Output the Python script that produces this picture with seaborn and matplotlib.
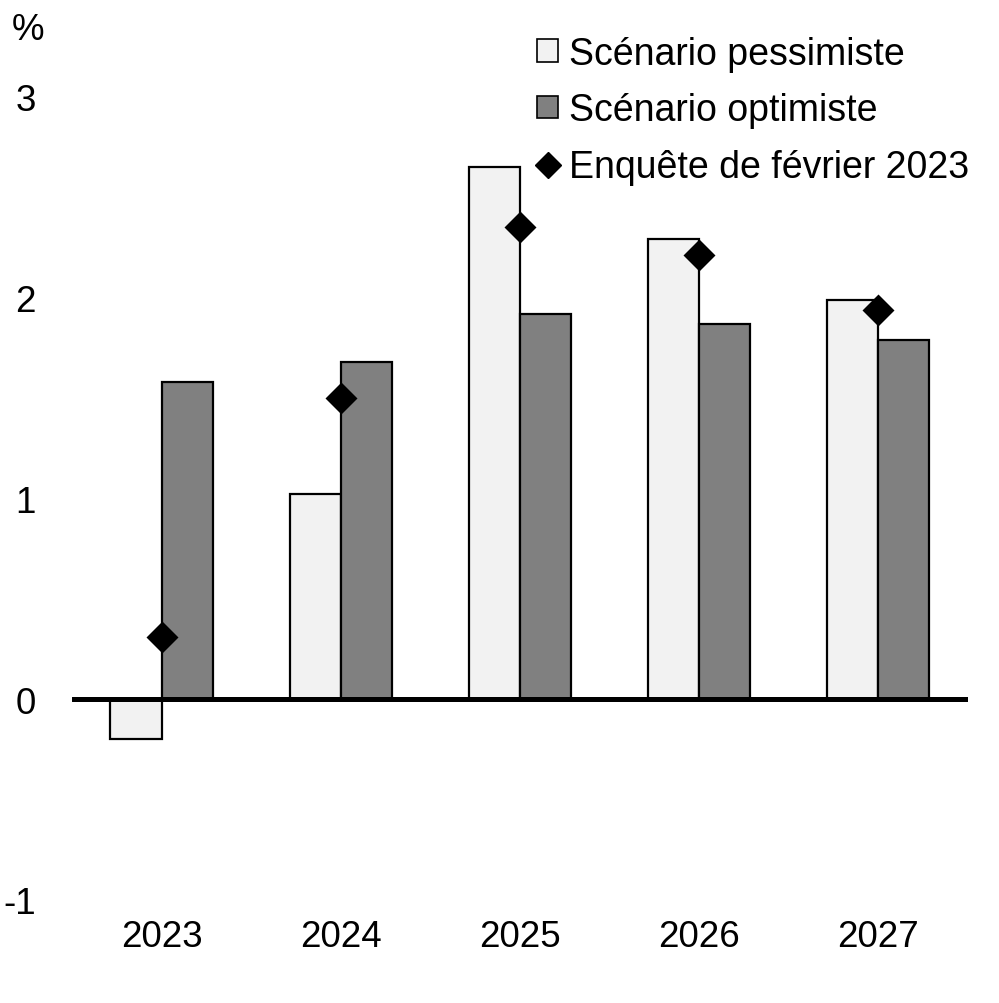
import pandas as pd
import matplotlib
matplotlib.use("Agg")
import matplotlib.pyplot as plt
import seaborn as sns
from matplotlib.patches import Patch
from matplotlib.lines import Line2D

years = ["2023", "2024", "2025", "2026", "2027"]
pessimistic = [-0.2, 1.02, 2.65, 2.29, 1.99]
optimistic = [1.58, 1.68, 1.92, 1.87, 1.79]
survey = [0.31, 1.50, 2.35, 2.21, 1.94]

label_pess = "Scénario pessimiste"
label_opt = "Scénario optimiste"
label_survey = "Enquête de février 2023"


def main():
    sns.set_style("white")
    plt.rcParams["font.family"] = ["Liberation Sans", "DejaVu Sans"]
    plt.rcParams["text.color"] = "black"
    plt.rcParams["xtick.color"] = "black"
    plt.rcParams["ytick.color"] = "black"

    # long table for the grouped bars
    df = pd.DataFrame({
        "year": years * 2,
        "value": pessimistic + optimistic,
        "scenario": [label_pess] * len(years) + [label_opt] * len(years),
    })
    survey_df = pd.DataFrame({"year": years, "value": survey})

    fig = plt.figure(figsize=(9.99, 10.04), dpi=100)
    ax = fig.add_axes([0.072, 0.1026, 0.897, 0.840])

    sns.barplot(data=df, x="year", y="value", hue="scenario", order=years,
                hue_order=[label_pess, label_opt],
                palette=["#f2f2f2", "#808080"], width=0.57, gap=0,
                edgecolor="black", linewidth=1.6, saturation=1,
                legend=False, ax=ax)
    sns.pointplot(data=survey_df, x="year", y="value", order=years,
                  color="black", markers="D", linestyle="none",
                  markersize=14, ax=ax)

    ax.axhline(0, color="black", lw=3.6, zorder=5)

    ax.set_xlim(-0.5, 4.5)
    ax.set_ylim(-1, 3.2)
    ax.set_yticks([-1, 0, 1, 2, 3])
    ax.set_yticklabels(["-1", "0", "1", "2", "3"])
    ax.set_xlabel("")
    ax.set_ylabel("")
    ax.tick_params(axis="both", length=0, labelsize=26.5, labelcolor="black")
    ax.tick_params(axis="y", pad=26)
    ax.tick_params(axis="x", pad=14)
    for s in ax.spines.values():
        s.set_visible(False)

    fig.text(0.012, 0.970, "%", fontsize=26.5, va="center", ha="left")

    handles = [
        Patch(facecolor="#f2f2f2", edgecolor="black", linewidth=1.2, label=label_pess),
        Patch(facecolor="#808080", edgecolor="black", linewidth=1.2, label=label_opt),
        Line2D([0], [0], marker="D", color="black", linestyle="none",
               markersize=13, label=label_survey),
    ]
    leg = ax.legend(handles=handles, loc="upper right", bbox_to_anchor=(0.989, 0.982),
                    bbox_transform=fig.transFigure, frameon=False, fontsize=27,
                    handlelength=0.55, handleheight=0.55, handletextpad=0.3,
                    labelspacing=0.55, borderpad=0)
    for t in leg.get_texts():
        t.set_color("black")

    fig.savefig("out.png", dpi=100)


if __name__ == "__main__":
    main()
